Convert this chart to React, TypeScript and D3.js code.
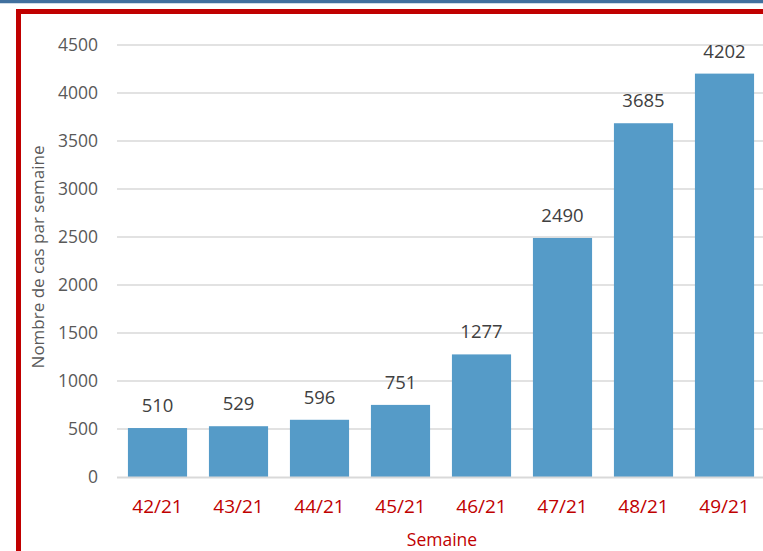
import React, { useEffect, useRef } from 'react';
import * as d3 from 'd3';

const weeks = ['42/21', '43/21', '44/21', '45/21', '46/21', '47/21', '48/21', '49/21'];
const cases = [510, 529, 596, 751, 1277, 2490, 3685, 4202];
const yTicks = [0, 500, 1000, 1500, 2000, 2500, 3000, 3500, 4000, 4500];

const FONT = '"Open Sans", "Noto Sans", sans-serif';

const App = () => {
  const ref = useRef<SVGSVGElement | null>(null);

  useEffect(() => {
    const svg = d3.select(ref.current)
      .attr('width', 763)
      .attr('height', 551)
      .style('display', 'block')
      .style('position', 'absolute')
      .style('left', '0px')
      .style('top', '0px')
      .style('background', '#ffffff');

    svg.selectAll('*').remove();

    // frame: red border cut at right/bottom, blue strip on top
    svg.append('rect')
      .attr('x', 18.5).attr('y', 11.5).attr('width', 800).attr('height', 600)
      .attr('fill', 'none')
      .attr('stroke', '#c00000')
      .attr('stroke-width', 5);
    svg.append('line')
      .attr('x1', 0).attr('x2', 763)
      .attr('y1', 1.5).attr('y2', 1.5)
      .attr('stroke', '#41709e')
      .attr('stroke-width', 3.5);

    const x = d3.scaleBand()
      .domain(weeks)
      .range([117, 765])
      .paddingInner(0.27)
      .paddingOuter(0.135);

    const y = d3.scaleLinear()
      .domain([0, 4500])
      .range([477, 45]);

    // gridlines
    svg.append('g')
      .selectAll('line')
      .data(yTicks.slice(1))
      .enter().append('line')
      .attr('x1', 117).attr('x2', 763)
      .attr('y1', d => y(d)).attr('y2', d => y(d))
      .attr('stroke', '#d9d9d9')
      .attr('stroke-width', 1.3);

    // y labels
    svg.append('g')
      .selectAll('text')
      .data(yTicks)
      .enter().append('text')
      .attr('x', 98)
      .attr('y', d => y(d))
      .attr('dy', '0.36em')
      .attr('text-anchor', 'end')
      .style('font-family', FONT)
      .style('font-size', '17.5px')
      .style('fill', '#595959')
      .text(d => d);

    // bars
    svg.append('g')
      .selectAll('rect')
      .data(cases)
      .enter().append('rect')
      .attr('x', (d, i) => x(weeks[i]))
      .attr('y', d => y(d))
      .attr('width', x.bandwidth())
      .attr('height', d => y(0) - y(d))
      .attr('fill', '#559bc8');

    // baseline
    svg.append('line')
      .attr('x1', 117).attr('x2', 763)
      .attr('y1', y(0) + 0.5).attr('y2', y(0) + 0.5)
      .attr('stroke', '#d9d9d9')
      .attr('stroke-width', 1.8);

    // value labels
    svg.append('g')
      .selectAll('text')
      .data(cases)
      .enter().append('text')
      .attr('x', (d, i) => x(weeks[i]) + x.bandwidth() / 2)
      .attr('y', d => y(d) - 16)
      .attr('text-anchor', 'middle')
      .style('font-family', FONT)
      .style('font-size', '18.5px')
      .style('fill', '#404040')
      .text(d => d);

    // x labels
    svg.append('g')
      .selectAll('text')
      .data(weeks)
      .enter().append('text')
      .attr('x', d => x(d) + x.bandwidth() / 2)
      .attr('y', 513)
      .attr('text-anchor', 'middle')
      .style('font-family', FONT)
      .style('font-size', '19px')
      .style('fill', '#c00000')
      .text(d => d);

    // axis titles
    svg.append('text')
      .attr('x', 442)
      .attr('y', 546)
      .attr('text-anchor', 'middle')
      .style('font-family', FONT)
      .style('font-size', '17.5px')
      .style('fill', '#c00000')
      .text('Semaine');

    svg.append('text')
      .attr('transform', 'translate(44,257) rotate(-90)')
      .attr('text-anchor', 'middle')
      .style('font-family', FONT)
      .style('font-size', '17px')
      .style('fill', '#595959')
      .text('Nombre de cas par semaine');
  }, []);

  return <svg ref={ref}></svg>;
};

export default App;
